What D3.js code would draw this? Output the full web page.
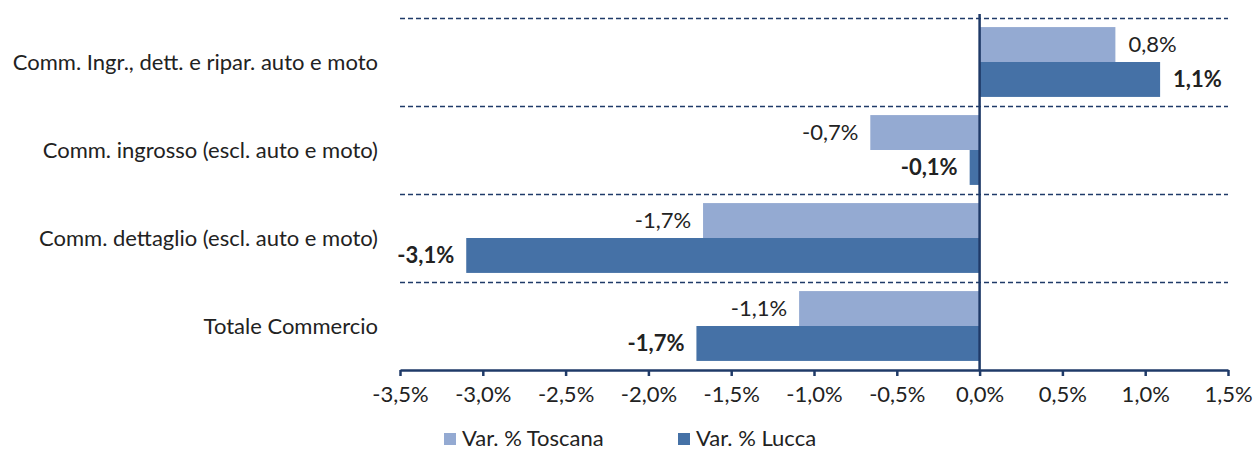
<!DOCTYPE html>
<html>
<head>
<meta charset="utf-8">
<script src="https://cdn.jsdelivr.net/npm/d3@7"></script>
<style>
  body { margin: 0; background: #fff; }
  svg { font-family: Lato, "Open Sans", sans-serif; }
</style>
</head>
<body>
<script>
// data
const categories = [
  "Comm. Ingr., dett. e ripar. auto e moto",
  "Comm. ingrosso (escl. auto e moto)",
  "Comm. dettaglio (escl. auto e moto)",
  "Totale Commercio"
];
const series = ["Var. % Toscana", "Var. % Lucca"];
const toscana = [0.82, -0.66, -1.67, -1.09];
const lucca = [1.09, -0.06, -3.1, -1.71];
const ticks = [-3.5, -3.0, -2.5, -2.0, -1.5, -1.0, -0.5, 0.0, 0.5, 1.0, 1.5];

const colors = { "Var. % Toscana": "#94aad2", "Var. % Lucca": "#4571a6" };
const navy = "#1f3a68";
const FONT = 22;

const width = 1254, height = 455;
const margin = { top: 18, right: 26, bottom: 85, left: 400 };

const svg = d3.select("body").append("svg")
  .attr("width", width)
  .attr("height", height);

const x = d3.scaleLinear()
  .domain([-3.5, 1.5])
  .range([margin.left, width - margin.right]);

const y = d3.scaleBand()
  .domain(categories)
  .range([margin.top, height - margin.bottom]);

const ySub = d3.scaleBand()
  .domain(series)
  .range([0, y.bandwidth()])
  .paddingInner(0)
  .paddingOuter(0.26);

const rows = categories.map((c, i) => ({
  cat: c,
  vals: [
    { s: series[0], v: toscana[i] },
    { s: series[1], v: lucca[i] }
  ]
}));

// italian style: comma decimals, plain hyphen for minus
const fmt = v => d3.format(".1f")(v).replace(".", ",").replace("\u2212", "-") + "%";

// dashed separators
svg.append("g").selectAll("line")
  .data(categories)
  .enter().append("line")
  .attr("x1", x(-3.5))
  .attr("x2", x(1.5))
  .attr("y1", d => y(d) + 0.5)
  .attr("y2", d => y(d) + 0.5)
  .attr("stroke", navy)
  .attr("stroke-width", 1.4)
  .attr("stroke-dasharray", "5,3");

// bars
const g = svg.append("g").selectAll("g.row")
  .data(rows)
  .enter().append("g")
  .attr("class", "row")
  .attr("transform", d => `translate(0,${y(d.cat)})`);

g.selectAll("rect")
  .data(d => d.vals)
  .enter().append("rect")
  .attr("x", d => Math.min(x(0), x(d.v)))
  .attr("width", d => Math.abs(x(d.v) - x(0)))
  .attr("y", d => ySub(d.s))
  .attr("height", ySub.bandwidth())
  .attr("fill", d => colors[d.s]);

g.selectAll("text")
  .data(d => d.vals)
  .enter().append("text")
  .attr("x", d => d.v >= 0 ? x(d.v) + 13 : x(d.v) - 12)
  .attr("y", d => ySub(d.s) + ySub.bandwidth() / 2)
  .attr("dy", "0.35em")
  .attr("text-anchor", d => d.v >= 0 ? "start" : "end")
  .attr("font-size", FONT)
  .attr("font-weight", d => d.s === series[1] ? "bold" : "normal")
  .attr("fill", "#222")
  .text(d => fmt(d.v));

// category labels
svg.append("g").selectAll("text")
  .data(categories)
  .enter().append("text")
  .attr("x", 378)
  .attr("y", d => y(d) + y.bandwidth() / 2)
  .attr("dy", "0.35em")
  .attr("text-anchor", "end")
  .attr("font-size", FONT)
  .attr("fill", "#222")
  .text(d => d);

// x axis
const xAxis = svg.append("g")
  .attr("transform", `translate(0,${height - margin.bottom})`)
  .call(d3.axisBottom(x).tickValues(ticks).tickSize(6).tickSizeOuter(0).tickPadding(10).tickFormat(fmt));
xAxis.select(".domain").attr("stroke", navy).attr("stroke-width", 2.5);
xAxis.selectAll(".tick line").attr("stroke", navy).attr("stroke-width", 2.5);
xAxis.selectAll(".tick text").attr("font-size", FONT).attr("fill", "#222").attr("font-family", "Lato, sans-serif");

// zero line
svg.append("line")
  .attr("x1", x(0)).attr("x2", x(0))
  .attr("y1", margin.top - 4)
  .attr("y2", height - margin.bottom)
  .attr("stroke", navy)
  .attr("stroke-width", 2.5);

// legend
const leg = svg.append("g").selectAll("g")
  .data(series)
  .enter().append("g")
  .attr("transform", (d, i) => `translate(${444 + i * 234},446)`);
leg.append("rect")
  .attr("x", 0).attr("y", -13)
  .attr("width", 12).attr("height", 12)
  .attr("fill", d => colors[d]);
leg.append("text")
  .attr("x", 18).attr("y", 0)
  .attr("font-size", FONT)
  .attr("fill", "#222")
  .text(d => d);
</script>
</body>
</html>
